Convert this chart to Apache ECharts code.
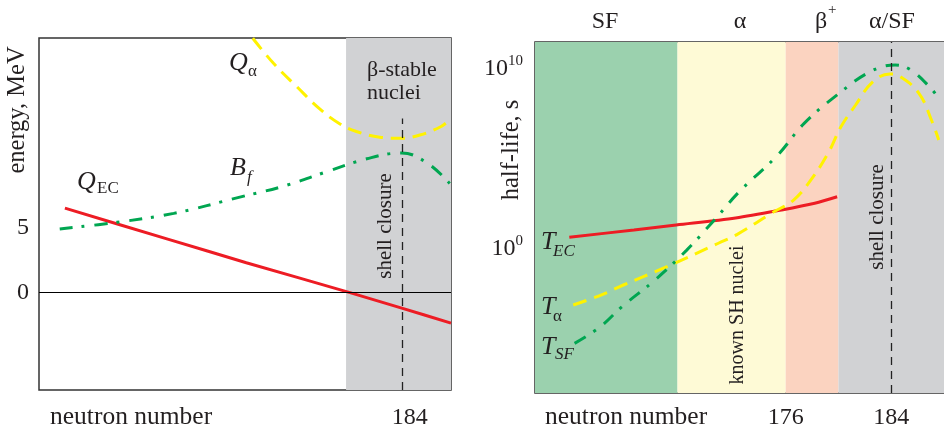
<!DOCTYPE html>
<html>
<head>
<meta charset="utf-8">
<script src="https://cdn.jsdelivr.net/npm/echarts@6/dist/echarts.min.js"></script>
<style>
html, body { margin: 0; padding: 0; background: #fff; }
#chart { width: 944px; height: 430px; }
</style>
</head>
<body>
<div id="chart"></div>
<script>
// left panel: energies (MeV) against neutron number
var qecN = [158, 166, 172, 180, 184, 187.8];
var qecE = [6.5, 4.1, 2.3, 0, -1.2, -2.35];
var bfN = [157.6, 162, 166.4, 171.5, 174.9, 178.2, 181.3, 184, 186, 187.7];
var bfE = [4.9, 5.41, 6.1, 7.35, 8.2, 9.3, 10.3, 10.75, 9.95, 8.4];
var qaN = [172.5, 174.1, 175.9, 177.6, 179.2, 180.5, 182.3, 183.9, 185.4, 187, 187.7];
var qaE = [19.58, 17.65, 15.85, 14.2, 13.0, 12.4, 11.96, 11.88, 12.13, 12.77, 13.3];
var leftTicksX = [184];
var leftTicksY = [0, 5];
var stableFrom = 179.7;

// right panel: log10 of half-life (s) against neutron number
var tecN = [159.6, 164.5, 167.7, 172.2, 175.7, 178.2, 179.9];
var tecE = [0.55, 0.96, 1.23, 1.62, 2.07, 2.44, 2.8];
var taN = [159.9, 162, 163.7, 167, 170.9, 172.3, 174.9, 176.6, 177.9, 179.2, 180.2, 181.3, 182.6, 183.9, 184.6, 186.1, 187.1, 187.6];
var taE = [-3.21, -2.66, -2.1, -1.08, 0.22, 0.7, 1.88, 2.62, 3.73, 5.2, 6.7, 7.9, 9.19, 9.62, 9.51, 8.55, 6.97, 5.96];
var tsfN = [160, 161.9, 163.6, 166.1, 168.5, 170.7, 172.5, 175.4, 177.4, 179.9, 182.4, 184.3, 185.5, 187, 187.6];
var tsfE = [-5.34, -4.45, -3.3, -1.82, -0.16, 1.6, 3.1, 5.12, 6.88, 8.46, 9.75, 10.12, 9.84, 8.83, 8.27];
var bandFrom = [157, 167.8, 176, 180];
var bandTo = [167.8, 176, 180, 188];
var bandColors = ['#9bd1ae', '#fefad6', '#fbd3c0', '#d1d2d4'];
var rightTicksX = [176, 184];
var rightTicksY = [0, 10];
var shellN = 184;

var FONT = '"Liberation Serif", "DejaVu Serif", serif';
var INK = '#231f20';
var RED = '#ed1c24', YEL = '#fff200', GRN = '#00a651';
var DASH = [14, 8], DASHDOT = [13, 9, 3, 10];

function pairs(xs, ys) {
    return xs.map(function (x, i) { return [x, ys[i]]; });
}

function txt(x, y, text, o) {
    o = o || {};
    return {
        type: 'text', x: x, y: y, rotation: o.rot || 0, z: 100,
        style: {
            text: text,
            fill: INK,
            font: (o.italic ? 'italic ' : '') + (o.size || 24) + 'px ' + FONT,
            textAlign: o.align || 'left',
            textVerticalAlign: o.valign || 'middle'
        }
    };
}

function curve(grid, xs, ys, color, type, smooth) {
    return {
        type: 'line', xAxisIndex: grid, yAxisIndex: grid,
        data: pairs(xs, ys), smooth: smooth, showSymbol: false,
        lineStyle: { color: color, width: 3, type: type }
    };
}

var chart = echarts.init(document.getElementById('chart'));

var axisBase = {
    type: 'value',
    axisLine: { show: false },
    axisTick: { show: false },
    splitLine: { show: false }
};
var labelBase = { fontSize: 24, color: INK, fontFamily: FONT };

chart.setOption({
    animation: false,
    grid: [
        { left: 39, top: 38, width: 412, height: 352, show: true, borderColor: '#333', borderWidth: 1.5 },
        { left: 535, top: 42, width: 415, height: 351, show: true, borderColor: '#333', borderWidth: 1.5 }
    ],
    xAxis: [
        Object.assign({}, axisBase, {
            gridIndex: 0, min: 156, max: 187.8,
            axisLabel: Object.assign({ customValues: leftTicksX, margin: 16, padding: [0, 0, 0, 16] }, labelBase)
        }),
        Object.assign({}, axisBase, {
            gridIndex: 1, min: 157, max: 188,
            axisLabel: Object.assign({ customValues: rightTicksX, margin: 13 }, labelBase)
        })
    ],
    yAxis: [
        Object.assign({}, axisBase, {
            gridIndex: 0, min: -7.5, max: 19.6,
            axisLabel: Object.assign({ customValues: leftTicksY, margin: 10 }, labelBase)
        }),
        Object.assign({}, axisBase, {
            gridIndex: 1, min: -8.1, max: 11.4,
            axisLabel: {
                customValues: rightTicksY, margin: 12,
                formatter: function (v) { return '{b|10}{s|' + v + '}'; },
                rich: {
                    b: { fontSize: 24, lineHeight: 28, color: INK, fontFamily: FONT, verticalAlign: 'bottom' },
                    s: { fontSize: 15, lineHeight: 15, color: INK, fontFamily: FONT, verticalAlign: 'top' }
                }
            }
        })
    ],
    series: [
        {
            type: 'line', xAxisIndex: 0, yAxisIndex: 0, data: [], z: -1, silent: true,
            markArea: {
                silent: true,
                itemStyle: { color: '#d1d2d4' },
                data: [[{ xAxis: stableFrom }, { xAxis: 187.8 }]]
            },
            markLine: {
                silent: true, symbol: 'none', label: { show: false },
                data: [
                    [{ coord: [156, 0] }, { coord: [187.8, 0], lineStyle: { color: '#000', width: 1.2, type: 'solid' } }],
                    [{ coord: [shellN, -7.5] }, { coord: [shellN, 13.4], lineStyle: { color: '#222', width: 1.3, type: [8, 6] } }]
                ]
            }
        },
        {
            type: 'line', xAxisIndex: 1, yAxisIndex: 1, data: [], z: -1, silent: true,
            markArea: {
                silent: true,
                data: bandFrom.map(function (f, i) {
                    return [{ xAxis: f, itemStyle: { color: bandColors[i] } }, { xAxis: bandTo[i] }];
                })
            },
            markLine: {
                silent: true, symbol: 'none', label: { show: false },
                lineStyle: { color: '#222', width: 1.3, type: [8, 6] },
                data: [{ xAxis: shellN }]
            }
        },
        curve(0, qecN, qecE, RED, 'solid', 0.2),
        curve(0, bfN, bfE, GRN, DASHDOT, 0.4),
        curve(0, qaN, qaE, YEL, DASH, 0.4),
        curve(1, tecN, tecE, RED, 'solid', 0.3),
        curve(1, taN, taE, YEL, DASH, 0.4),
        curve(1, tsfN, tsfE, GRN, DASHDOT, 0.4)
    ],
    graphic: [
        // left panel texts
        txt(18, 110, 'energy, MeV', { rot: Math.PI / 2, align: 'center', size: 24.5 }),
        txt(50, 417, 'neutron number', { size: 25.5 }),
        txt(367, 70, 'β-stable', { size: 22 }),
        txt(367, 93, 'nuclei', { size: 22 }),
        txt(385, 226, 'shell closure', { rot: Math.PI / 2, align: 'center', size: 21 }),
        txt(229, 63, 'Q', { italic: true, size: 26 }),
        txt(248, 72, 'α', { size: 17 }),
        txt(77, 182, 'Q', { italic: true, size: 26 }),
        txt(97, 189, 'EC', { size: 17 }),
        txt(230, 168, 'B', { italic: true, size: 26 }),
        txt(247, 178, 'f', { italic: true, size: 17 }),
        // right panel texts
        txt(512, 150, 'half-life, s', { rot: Math.PI / 2, align: 'center', size: 24.5 }),
        txt(545, 417, 'neutron number', { size: 25.5 }),
        txt(605, 22, 'SF', { align: 'center' }),
        txt(740, 22, 'α', { align: 'center' }),
        txt(815, 22, 'β'),
        txt(828, 10, '+', { size: 15 }),
        txt(892, 22, 'α/SF', { align: 'center' }),
        txt(738, 315, 'known SH nuclei', { rot: Math.PI / 2, align: 'center', size: 20 }),
        txt(877, 217, 'shell closure', { rot: Math.PI / 2, align: 'center', size: 21 }),
        txt(541, 242, 'T', { italic: true, size: 26 }),
        txt(553, 252, 'EC', { italic: true, size: 17 }),
        txt(541, 307, 'T', { italic: true, size: 26 }),
        txt(553, 317, 'α', { size: 17 }),
        txt(541, 347, 'T', { italic: true, size: 26 }),
        txt(555, 355, 'SF', { italic: true, size: 17 })
    ]
});
</script>
</body>
</html>
